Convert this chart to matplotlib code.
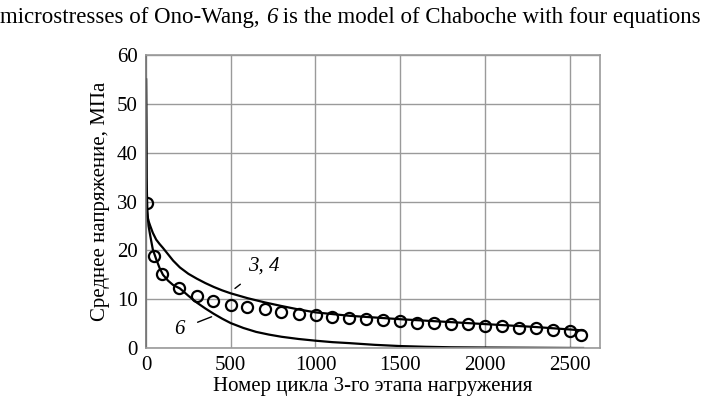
import numpy as np
import matplotlib.pyplot as plt

plt.rcParams['font.family'] = ['Liberation Serif', 'DejaVu Serif']

# experiment (circles)
exp_x = [8, 47, 94, 196, 299, 397, 500, 598, 700, 799, 901, 1003, 1100, 1200, 1300,
         1400, 1500, 1600, 1700, 1800, 1900, 2000, 2100, 2200, 2300, 2400, 2500, 2570]
exp_y = [29.8, 18.9, 15.1, 12.3, 10.7, 9.7, 8.8, 8.4, 8.05, 7.4, 6.95, 6.7, 6.4, 6.2, 6.0,
         5.7, 5.5, 5.2, 5.05, 4.9, 4.9, 4.6, 4.5, 4.2, 4.1, 3.6, 3.4, 2.7]

# model 3, 4
m34_x = [0, 3, 8, 15, 25, 40, 60, 80, 100, 130, 160, 200, 250, 300, 350, 400, 450, 500,
         600, 700, 800, 900, 1000, 1200, 1500, 1800, 2000, 2300, 2500, 2580]
m34_y = [55, 30, 27, 26, 25, 23.6, 22.2, 21.3, 20.5, 19.2, 17.9, 16.5, 15.2, 14.2, 13.3,
         12.5, 11.8, 11.2, 10.2, 9.35, 8.6, 7.9, 7.3, 6.6, 5.9, 5.3, 4.9, 4.3, 3.8, 3.6]

# model 6
m6_x = [0, 3, 8, 15, 25, 40, 60, 80, 100, 130, 160, 200, 250, 300, 350, 400, 450, 500,
        575, 650, 725, 800, 900, 1000, 1100, 1200, 1350, 1500, 1650, 1800, 2000, 2300, 2580]
m6_y = [55, 35, 28, 25, 23, 20.2, 18.2, 16.4, 15, 13.8, 12.9, 12.2, 10.7, 9.3, 8.1,
        7.0, 6.0, 5.1, 4.1, 3.3, 2.75, 2.3, 1.85, 1.5, 1.2, 1.0, 0.65, 0.4, 0.25, 0.15,
        0.1, 0.05, 0.0]

title_parts = [('microstresses of Ono-Wang, ', 'normal'), ('6', 'italic'),
               (' is the model of Chaboche with four equations', 'normal')]

fig = plt.figure(figsize=(7.01, 3.99), dpi=100)
ax = fig.add_axes([0.2083, 0.1278, 0.6477, 0.7342])

ax.plot(m34_x, m34_y, color='black', lw=1.6)
ax.plot(m6_x, m6_y, color='black', lw=1.6)
ax.plot(exp_x, exp_y, 'o', mfc='none', mec='black', mew=1.6, ms=8)

ax.annotate('3, 4', xy=(525, 12.2), xytext=(695, 16.8), fontsize=15, style='italic',
            ha='center', va='center',
            arrowprops=dict(arrowstyle='-', color='black', lw=1, shrinkA=7, shrinkB=0))
ax.annotate('6', xy=(387, 6.4), xytext=(196, 3.8), fontsize=15, style='italic',
            ha='center', va='center',
            arrowprops=dict(arrowstyle='-', color='black', lw=1, shrinkA=8, shrinkB=0))

ax.set_xlim(0, 2680)
ax.set_ylim(0, 60)
ax.set_xticks([0, 500, 1000, 1500, 2000, 2500])
ax.set_yticks([0, 10, 20, 30, 40, 50, 60])
ax.grid(True, color='#9a9a9a', lw=1)
ax.set_axisbelow(True)
for s in ax.spines.values():
    s.set_color('#9a9a9a')
    s.set_linewidth(1.2)
ax.spines['left'].set_color('#707070')
ax.tick_params(length=0, labelsize=15, pad=6)

ax.set_xlabel('Номер цикла 3-го этапа нагружения', fontsize=15, labelpad=1)
ax.set_ylabel('Среднее напряжение, МПа', fontsize=15, labelpad=5)

# title line with italic "6", laid out piece by piece
renderer = fig.canvas.get_renderer()
texts = []
x = 0.0
for s, st in title_parts:
    t = fig.text(x, 0.957, s, ha='left', va='center', fontsize=16.5, style=st)
    texts.append(t)
    x += t.get_window_extent(renderer).width / fig.bbox.width
shift = (1.0 - x) / 2
for t in texts:
    t.set_x(t.get_position()[0] + shift)

fig.savefig('out.png', dpi=100)
